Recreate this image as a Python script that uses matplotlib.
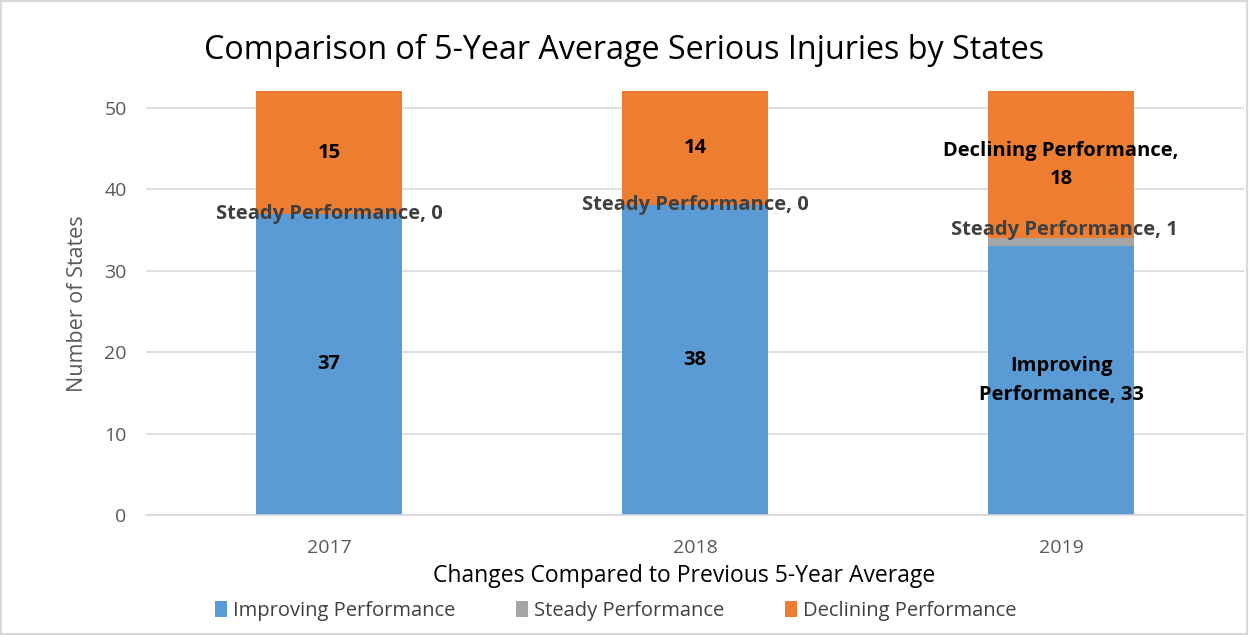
import numpy as np
import matplotlib.pyplot as plt
from matplotlib.patches import Rectangle

plt.rcParams['font.family'] = ['Open Sans', 'DejaVu Sans']

years = ['2017', '2018', '2019']
improving = [37, 38, 33]
steady = [0, 0, 1]
declining = [15, 14, 18]

c_imp = '#5B9BD5'
c_std = '#A5A5A5'
c_dec = '#ED7D31'
txt = '#595959'

fig = plt.figure(figsize=(12.49, 6.35), dpi=100)
ax = fig.add_axes([0.117, 0.189, 0.879, 0.667])

x = np.arange(len(years))
w = 0.4
imp = np.array(improving)
std = np.array(steady)
dec = np.array(declining)

ax.bar(x, imp, w, color=c_imp, label='Improving Performance', zorder=2)
ax.bar(x, std, w, bottom=imp, color=c_std, label='Steady Performance', zorder=2)
ax.bar(x, dec, w, bottom=imp + std, color=c_dec, label='Declining Performance', zorder=2)

ax.set_xlim(-0.5, 2.5)
ax.set_ylim(0, 52)
ax.set_yticks([0, 10, 20, 30, 40, 50])
ax.set_xticks(x)
ax.set_xticklabels(years)
ax.yaxis.grid(True, color='#D9D9D9', linewidth=1.2, zorder=0)
for s in ['top', 'right', 'left']:
    ax.spines[s].set_visible(False)
ax.spines['bottom'].set_color('#D9D9D9')
ax.spines['bottom'].set_linewidth(1.2)
ax.tick_params(axis='both', length=0, colors=txt, labelsize=14)
ax.tick_params(axis='y', pad=14)
ax.tick_params(axis='x', pad=17)

ax.set_ylabel('Number of States', fontsize=15.5, color=txt, labelpad=12)
ax.set_xlabel('Changes Compared to Previous 5-Year Average', fontsize=16.5,
              color='black', labelpad=2)
ax.xaxis.set_label_coords(0.49, -0.115)
fig.suptitle('Comparison of 5-Year Average Serious Injuries by States',
             fontsize=23.2, y=0.947, x=0.5)

bold = dict(fontsize=14.5, fontweight='bold', ha='center', va='center')
# 2017 / 2018 plain values
for i in range(2):
    ax.text(x[i], imp[i] / 2, str(imp[i]), color='black', **bold)
    ax.text(x[i], imp[i] + std[i] + dec[i] / 2, str(dec[i]), color='black', **bold)
    ax.text(x[i], imp[i] + std[i], 'Steady Performance, %d' % std[i],
            color='#404040', **bold)
# 2019 full labels
ax.text(x[2], imp[2] / 2, 'Improving\nPerformance, %d' % imp[2],
        color='black', linespacing=1.55, **bold)
ax.text(x[2] + 0.01, imp[2] + std[2] + 1.0, 'Steady Performance, %d' % std[2],
        color='#404040', **bold)
ax.text(x[2], imp[2] + std[2] + dec[2] / 2, 'Declining Performance,\n%d' % dec[2],
        color='black', linespacing=1.55, **bold)

leg = fig.legend(loc='center', bbox_to_anchor=(0.493, 0.038), ncol=3, frameon=False,
                 fontsize=14.5, handlelength=0.6, handleheight=0.8,
                 handletextpad=0.3, columnspacing=3.0)
for t in leg.get_texts():
    t.set_color('#404040')

fig.patches.append(Rectangle((0.001, 0.001), 0.997, 0.997, transform=fig.transFigure,
                             fill=False, edgecolor='#D9D9D9', linewidth=1.5))

fig.savefig('out.png', dpi=100)
